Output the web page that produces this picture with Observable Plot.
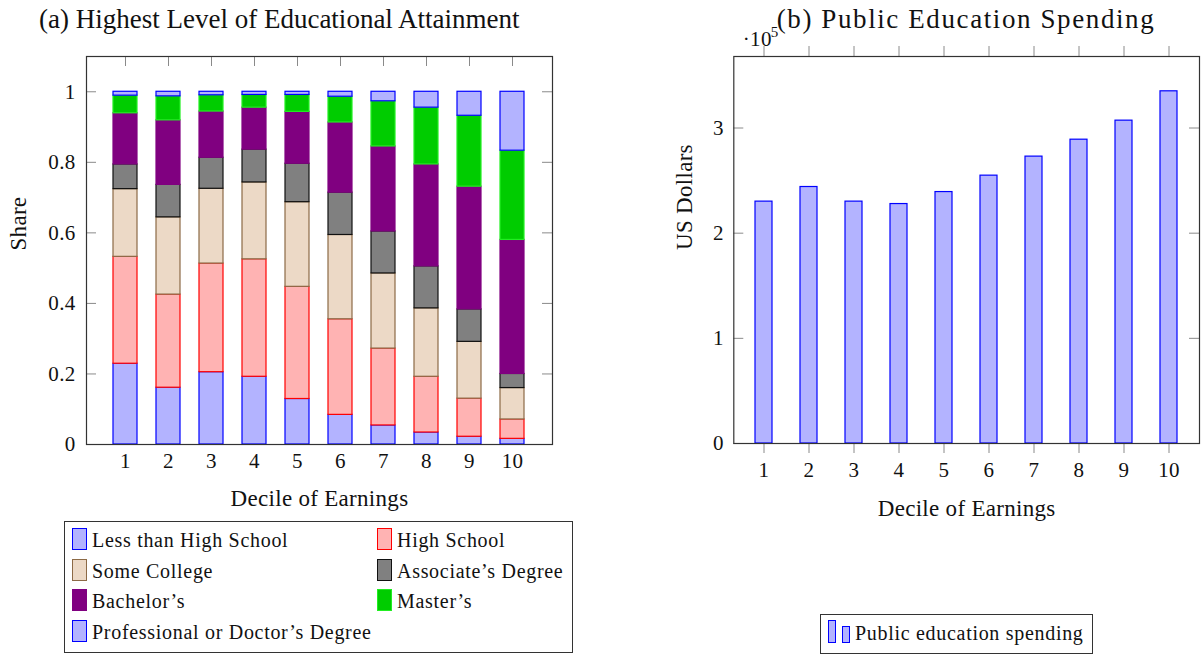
<!DOCTYPE html>
<html>
<head>
<meta charset="utf-8">
<script src="https://cdn.jsdelivr.net/npm/d3@7"></script>
<script src="https://cdn.jsdelivr.net/npm/@observablehq/plot@0.6"></script>
<style>
  body { margin: 0; background: #fff; font-family: "Liberation Serif", serif; color: #111; }
  #wrap { position: relative; width: 1202px; height: 655px; overflow: hidden; }
  .chart { position: absolute; top: 0; }
  .title { position: absolute; font-size: 27px; line-height: 28px; white-space: nowrap; z-index: 2; }
  .legend { position: absolute; border: 1px solid #333; box-sizing: border-box; background: #fff; font-size: 20px; letter-spacing: 0.7px; }
  .item { position: absolute; white-space: nowrap; }
  .sw { position: absolute; box-sizing: border-box; border-width: 1.3px; border-style: solid; }
  .lab { position: absolute; line-height: 22px; }
</style>
</head>
<body>
<div id="wrap">
  <div class="title" style="left:39px; top:5px; letter-spacing:0px;">(a) Highest Level of Educational Attainment</div>
  <div class="title" style="left:766px; top:5px; width:400px; text-align:center; letter-spacing:1.6px;">(b) Public Education Spending</div>
  <div id="left" class="chart" style="left:0px;"></div>
  <div id="right" class="chart" style="left:620px;"></div>
  <div id="legendL" class="legend" style="left:64px; top:521px; width:509px; height:132px;"></div>
  <div id="legendR" class="legend" style="left:820px; top:614px; width:273px; height:40px;"></div>
</div>
<script>
// ---------- data ----------
const deciles = [1, 2, 3, 4, 5, 6, 7, 8, 9, 10];
const levels = [
  "Less than High School",
  "High School",
  "Some College",
  "Associate’s Degree",
  "Bachelor’s",
  "Master’s",
  "Professional or Doctor’s Degree"
];
const lessThanHighSchool = [0.229, 0.161, 0.205, 0.192, 0.129, 0.084, 0.054, 0.034, 0.022, 0.016];
const highSchool         = [0.303, 0.264, 0.308, 0.333, 0.318, 0.271, 0.218, 0.158, 0.108, 0.055];
const someCollege        = [0.192, 0.219, 0.212, 0.218, 0.240, 0.239, 0.213, 0.194, 0.161, 0.089];
const associates         = [0.070, 0.092, 0.088, 0.093, 0.109, 0.120, 0.119, 0.119, 0.092, 0.040];
const bachelors          = [0.145, 0.183, 0.131, 0.119, 0.147, 0.199, 0.241, 0.289, 0.348, 0.380];
const masters            = [0.050, 0.068, 0.046, 0.036, 0.048, 0.073, 0.128, 0.161, 0.201, 0.253];
const professional       = [0.011, 0.013, 0.010, 0.009, 0.009, 0.014, 0.027, 0.045, 0.068, 0.167];
const publicSpending = [230000, 243900, 230000, 227700, 239100, 254700, 272800, 288900, 307000, 334900];
const shareTicks = [0, 0.2, 0.4, 0.6, 0.8, 1];
const dollarTicks = [0, 100000, 200000, 300000];

const fills   = ["#b3b3ff", "#ffb3b3", "#ecd9c6", "#808080", "#800080", "#00cc00", "#b3b3ff"];
const strokes = ["#0000ff", "#ff0000", "#8c6a46", "#111111", "#800080", "#22ee22", "#0000ff"];

const shareSeries = [lessThanHighSchool, highSchool, someCollege, associates, bachelors, masters, professional];
const rows = [];
deciles.forEach((d, i) => levels.forEach((l, j) => rows.push({decile: d, level: l, k: j, share: shareSeries[j][i]})));

const tickGray = "#8a8a8a";
const baseStyle = {fontFamily: '"Liberation Serif", serif', fontSize: "21px", background: "transparent", color: "#111", overflow: "visible", letterSpacing: "0.3px"};

// ---------- left chart ----------
{
  const W = 600, H = 520, mL = 86, mR = 48, mT = 56, mB = 76;
  const fw = W - mL - mR, fh = H - mT - mB;
  const chart = Plot.plot({
    width: W, height: H, marginLeft: mL, marginRight: mR, marginTop: mT, marginBottom: mB,
    style: baseStyle,
    x: {type: "band", domain: deciles, paddingInner: 0.4375, paddingOuter: 0.612, align: 0.5, axis: null, label: null},
    y: {domain: [0, 1.1], axis: null, label: null},
    color: {type: "identity"},
    marks: [
      Plot.ruleY(shareTicks, {y: d => d, stroke: tickGray, insetRight: fw - 10}),
      Plot.ruleY(shareTicks, {y: d => d, stroke: tickGray, insetLeft: fw - 10}),
      Plot.ruleX(deciles, {x: d => d, stroke: tickGray, insetBottom: fh - 10}),
      Plot.ruleX(deciles, {x: d => d, stroke: tickGray, insetTop: fh - 10}),
      Plot.barY(rows, Plot.stackY({x: "decile", y: "share", z: "level", order: null,
        fill: d => fills[d.k], stroke: d => strokes[d.k], strokeWidth: 1.2})),
      Plot.axisX({tickSize: 0, tickPadding: 9, fontSize: 21, label: null}),
      Plot.axisY({ticks: shareTicks, tickSize: 0, tickPadding: 11, fontSize: 21, label: null,
        tickFormat: d => String(+d.toFixed(1))}),
      Plot.frame({stroke: "#333", strokeWidth: 1.2}),
      Plot.text(["Decile of Earnings"], {text: d => d, frameAnchor: "bottom", dy: 54, fontSize: 23, lineAnchor: "middle"}),
      Plot.text(["Share"], {text: d => d, frameAnchor: "left", dx: -68, rotate: -90, fontSize: 23, lineAnchor: "middle"})
    ]
  });
  document.getElementById("left").append(chart);
}

// ---------- right chart ----------
{
  const W = 582, H = 520, mL = 113.3, mR = 3, mT = 56, mB = 77;
  const fw = W - mL - mR, fh = H - mT - mB;
  const chart = Plot.plot({
    width: W, height: H, marginLeft: mL, marginRight: mR, marginTop: mT, marginBottom: mB,
    style: baseStyle,
    x: {type: "band", domain: deciles, paddingInner: 0.622, paddingOuter: 0.40, align: 0.5, axis: null, label: null},
    y: {domain: [0, 368000], axis: null, label: null},
    marks: [
      Plot.ruleY(dollarTicks, {y: d => d, stroke: tickGray, insetRight: fw - 10}),
      Plot.ruleY(dollarTicks, {y: d => d, stroke: tickGray, insetLeft: fw - 10}),
      Plot.ruleX(deciles, {x: d => d, stroke: tickGray, insetTop: -10, insetBottom: fh}),
      Plot.ruleX(deciles, {x: d => d, stroke: tickGray, insetTop: fh, insetBottom: -10}),
      Plot.barY(deciles, {x: d => d, y: (d, i) => publicSpending[i], fill: "#b3b3ff", stroke: "#0000ff", strokeWidth: 1.2}),
      Plot.axisX({tickSize: 0, tickPadding: 19, fontSize: 21, label: null}),
      Plot.axisY({ticks: dollarTicks, tickSize: 0, tickPadding: 10, fontSize: 21, label: null,
        tickFormat: d => String(d / 100000)}),
      Plot.frame({stroke: "#333", strokeWidth: 1.2}),
      Plot.text(["Decile of Earnings"], {text: d => d, frameAnchor: "bottom", dy: 65, fontSize: 23, lineAnchor: "middle"}),
      Plot.text(["US Dollars"], {text: d => d, frameAnchor: "left", dx: -49, rotate: -90, fontSize: 23, lineAnchor: "middle"}),
      Plot.text(["·10"], {text: d => d, frameAnchor: "top-left", dx: 9, dy: -17, textAnchor: "start", lineAnchor: "middle", fontSize: 21}),
      Plot.text(["5"], {text: d => d, frameAnchor: "top-left", dx: 37, dy: -24, textAnchor: "start", lineAnchor: "middle", fontSize: 15})
    ]
  });
  document.getElementById("right").append(chart);
}

// ---------- legends ----------
{
  const lg = document.getElementById("legendL");
  levels.forEach((l, j) => {
    const col = j % 2, row = Math.floor(j / 2);
    const it = document.createElement("div");
    it.className = "item";
    it.style.left = (col === 0 ? 7 : 312) + "px";
    it.style.top = (6 + row * 30.7) + "px";
    it.innerHTML = `<div class="sw" style="left:0;top:0;width:15px;height:22px;background:${fills[j]};border-color:${strokes[j]}"></div><div class="lab" style="left:20px;top:1px">${l}</div>`;
    lg.append(it);
  });
  const lr = document.getElementById("legendR");
  lr.innerHTML = `<div class="sw" style="left:7px;top:5px;width:8px;height:23px;background:#b3b3ff;border-color:#0000ff"></div>
    <div class="sw" style="left:21px;top:11px;width:8px;height:17px;background:#b3b3ff;border-color:#0000ff"></div>
    <div class="lab" style="left:34px;top:7px">Public education spending</div>`;
}
</script>
</body>
</html>
